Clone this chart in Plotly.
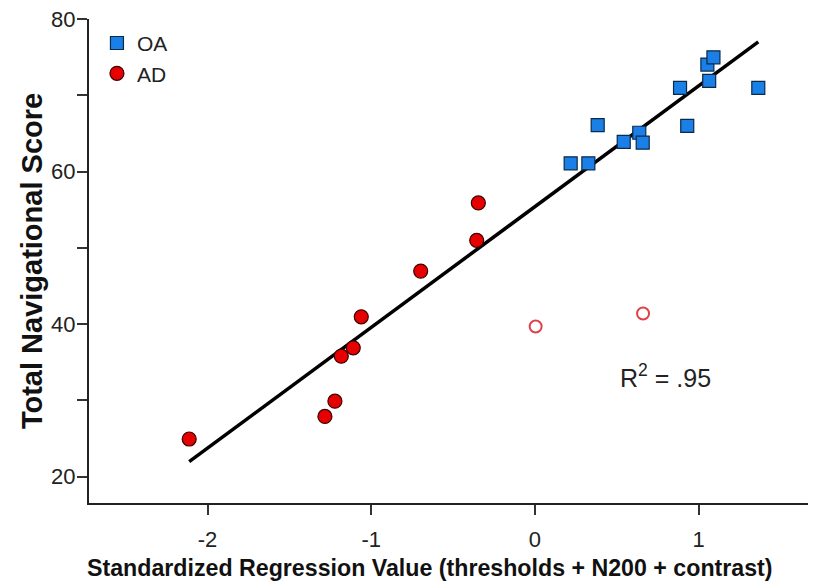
import numpy as np
import plotly.graph_objects as go

# OA group (blue squares)
oa_x = [0.218, 0.326, 0.383, 0.542, 0.637, 0.658, 0.886, 0.930, 1.064, 1.053, 1.090, 1.364]
oa_y = [61.1, 61.1, 66.1, 63.9, 65.1, 63.8, 71.0, 66.0, 71.9, 74.05, 75.0, 71.0]

# AD group (red circles)
ad_x = [-2.112, -1.283, -1.222, -1.183, -1.110, -1.061, -0.698, -0.356, -0.346]
ad_y = [24.94, 27.9, 29.9, 35.8, 36.9, 40.97, 46.96, 51.0, 55.9]

# AD outliers (open circles, excluded from fit)
out_x = [0.004, 0.66]
out_y = [39.7, 41.4]

x_tickvals = [-2, -1, 0, 1]
x_ticktext = ["-2", "-1", "0", "1"]
y_tickvals = [20, 40, 60, 80]
y_ticktext = ["20", "40", "60", "80"]

r2_label = "R<sup>2</sup> = .95"
x_title = "<b>Standardized Regression Value (thresholds + N200 + contrast)</b>"
y_title = "<b>Total Navigational Score</b>"

all_x = np.array(oa_x + ad_x)
all_y = np.array(oa_y + ad_y)
slope, intercept = np.polyfit(all_x, all_y, 1)
fit_x = np.array([all_x.min(), all_x.max()])
fit_y = intercept + slope * fit_x

fig = go.Figure()
fig.add_trace(go.Scatter(x=fit_x, y=fit_y, mode="lines",
                         line=dict(color="black", width=3.5), showlegend=False, hoverinfo="skip"))
fig.add_trace(go.Scatter(x=out_x, y=out_y, mode="markers", showlegend=False,
                         marker=dict(symbol="circle-open", size=12, color="#e0404a", line=dict(width=2))))
fig.add_trace(go.Scatter(x=oa_x, y=oa_y, mode="markers", name="OA", legendgroup="oa",
                         marker=dict(symbol="square", size=13, color="#1a7fe6",
                                     line=dict(color="#0b2a4a", width=1.2))))
fig.add_trace(go.Scatter(x=ad_x, y=ad_y, mode="markers", name="AD", legendgroup="ad",
                         marker=dict(symbol="circle", size=14, color="#e60000",
                                     line=dict(color="#3a0000", width=1.2))))

fig.add_annotation(x=0.80, y=33.2, xref="x", yref="y", text=r2_label, showarrow=False,
                   font=dict(family="Liberation Sans, Arial", size=25, color="#222"))

# x-axis title (placed slightly left of centre, as in the reference)
fig.add_annotation(x=0.4716, y=-0.134, xref="paper", yref="paper", text=x_title,
                   showarrow=False, xanchor="center", yanchor="middle",
                   font=dict(family="Liberation Sans, Arial", size=23.2, color="#111"))

axis_font = dict(family="Liberation Sans, Arial", size=22, color="#222")
fig.update_layout(
    width=808, height=580,
    margin=dict(l=81, r=4, t=11, b=85, autoexpand=False),
    paper_bgcolor="white", plot_bgcolor="white",
    showlegend=True,
    legend=dict(x=0.011, y=0.992, xanchor="left", yanchor="top", tracegroupgap=0,
                font=dict(family="Liberation Sans, Arial", size=21, color="#222"),
                bgcolor="rgba(0,0,0,0)"),
    xaxis=dict(range=[-2.724, 1.692], tickvals=x_tickvals, ticktext=x_ticktext,
               ticks="outside", ticklen=10, automargin=False, ticklabeloverflow="allow",
               tickwidth=2, tickcolor="#333", showline=True, linecolor="#222", linewidth=2,
               showgrid=False, zeroline=False, tickfont=axis_font, ticklabelstandoff=6),
    yaxis=dict(range=[16.55, 80.02], tickvals=y_tickvals, ticktext=y_ticktext,
               ticks="outside", ticklen=10, tickwidth=2, automargin=False,
               ticklabeloverflow="allow", ticklabelstandoff=-3,
               tickcolor="#333", showline=True, linecolor="#222", linewidth=2,
               showgrid=False, zeroline=False, tickfont=axis_font,
               minor=dict(dtick=10, tick0=0, ticks="outside", ticklen=10, tickwidth=2, tickcolor="#333"),
               title=dict(text=y_title,
                          font=dict(family="Liberation Sans, Arial", size=29, color="#111"),
                          standoff=0)),
)

fig.write_html("out.html")
